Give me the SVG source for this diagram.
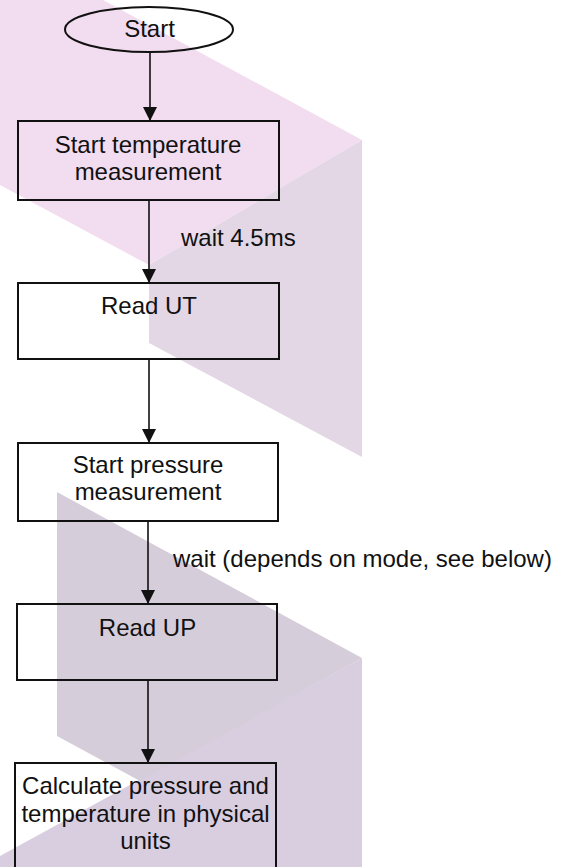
<svg xmlns="http://www.w3.org/2000/svg" width="563" height="867" viewBox="0 0 563 867">
  <style>
    .box { fill: none; stroke: #111; stroke-width: 2; }
    .lbl { font-family: "Liberation Sans", Arial, sans-serif; font-size: 24px; fill: #111; }
    .c { text-anchor: middle; }
    .edge { stroke: #111; stroke-width: 1.6; fill: none; marker-end: url(#ah); }
  </style>
  <defs>
    <marker id="ah" markerUnits="userSpaceOnUse" markerWidth="14" markerHeight="14" viewBox="0 0 14 14" refX="14" refY="7" orient="auto">
      <path d="M0,0 L14,7 L0,14 z" fill="#111"/>
    </marker>
  </defs>

  <g id="watermark">
    <polygon points="0,0 103,0 362,140 149,265 0,185" fill="#f2dcef"/>
    <polygon points="149,265 362,140 362,457 149,343" fill="#e3d7e5"/>
    <polygon points="362,658 362,867 0,867 0,856" fill="#d9cde0"/>
    <polygon points="57,492 362,658 140,781 57,736" fill="#d6cdda"/>
  </g>

  <g id="connectors">
    <line class="edge" x1="150" y1="52" x2="150" y2="121"/>
    <line class="edge" x1="149" y1="200" x2="149" y2="283"/>
    <line class="edge" x1="149" y1="359" x2="149" y2="443"/>
    <line class="edge" x1="148" y1="521" x2="148" y2="604"/>
    <line class="edge" x1="148" y1="680" x2="148" y2="763"/>
    <text class="lbl" x="181" y="246">wait 4.5ms</text>
    <text class="lbl" x="173" y="567">wait (depends on mode, see below)</text>
  </g>

  <g id="start">
    <ellipse cx="149" cy="29.5" rx="84" ry="22.5" fill="none" stroke="#111" stroke-width="2"/>
    <text class="lbl c" x="149.5" y="37">Start</text>
  </g>

  <g id="start-temp">
    <rect class="box" x="18" y="121" width="261" height="79"/>
    <text class="lbl c" x="148" y="153">Start temperature</text>
    <text class="lbl c" x="148" y="180">measurement</text>
  </g>

  <g id="read-ut">
    <rect class="box" x="18" y="283" width="261" height="76"/>
    <text class="lbl c" x="149" y="314">Read UT</text>
  </g>

  <g id="start-pressure">
    <rect class="box" x="18" y="443" width="260" height="78"/>
    <text class="lbl c" x="148" y="473">Start pressure</text>
    <text class="lbl c" x="148" y="500">measurement</text>
  </g>

  <g id="read-up">
    <rect class="box" x="17" y="604" width="260" height="76"/>
    <text class="lbl c" x="147.5" y="636">Read UP</text>
  </g>

  <g id="calculate">
    <rect class="box" x="15" y="763" width="261" height="120"/>
    <text class="lbl c" x="145.5" y="794">Calculate pressure and</text>
    <text class="lbl c" x="145.5" y="822">temperature in physical</text>
    <text class="lbl c" x="145.5" y="849">units</text>
  </g>
</svg>
